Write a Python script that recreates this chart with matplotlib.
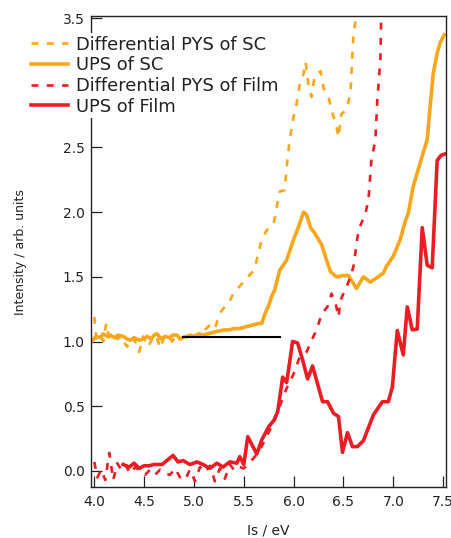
import matplotlib
matplotlib.use("Agg")
import matplotlib.pyplot as plt

# ---------------- data ----------------
pys_sc_x = [4.00, 4.02, 4.06, 4.09, 4.12, 4.15, 4.19, 4.23, 4.27, 4.31, 4.33, 4.37, 4.41, 4.45,
            4.49, 4.54, 4.58, 4.62, 4.66, 4.70, 4.74, 4.78, 4.82, 4.86, 4.90, 4.95, 5.00, 5.04,
            5.08, 5.11, 5.16, 5.21, 5.26, 5.30, 5.35, 5.40, 5.45, 5.53, 5.60, 5.63, 5.68, 5.73,
            5.80, 5.83, 5.86, 5.91, 5.93, 5.96, 6.00, 6.03, 6.06, 6.10, 6.12, 6.15, 6.18, 6.21,
            6.27, 6.30, 6.35, 6.38, 6.43, 6.45, 6.48, 6.53, 6.57, 6.58, 6.60, 6.63, 6.66]
pys_sc_y = [1.19, 1.02, 1.05, 1.00, 1.14, 1.03, 1.06, 1.02, 1.04, 0.98, 0.96, 1.03, 1.00, 0.92,
            1.04, 0.96, 1.02, 1.05, 0.95, 1.03, 1.05, 1.00, 1.05, 1.02, 1.04, 1.03, 1.05, 1.04,
            1.06, 1.09, 1.13, 1.10, 1.22, 1.26, 1.30, 1.38, 1.42, 1.49, 1.55, 1.63, 1.79, 1.86,
            1.91, 2.04, 2.16, 2.17, 2.35, 2.56, 2.74, 2.84, 2.98, 3.07, 3.16, 2.98, 2.89, 3.05,
            3.09, 2.96, 2.89, 2.79, 2.66, 2.58, 2.76, 2.79, 2.92, 3.07, 3.38, 3.52, 3.70]

ups_sc_x = [3.97, 4.02, 4.06, 4.09, 4.13, 4.16, 4.20, 4.24, 4.29, 4.33, 4.36, 4.40, 4.45, 4.49,
            4.53, 4.57, 4.60, 4.63, 4.67, 4.71, 4.75, 4.79, 4.83, 4.86, 4.89, 4.93, 4.96, 5.00,
            5.05, 5.09, 5.14, 5.19, 5.24, 5.30, 5.35, 5.40, 5.45, 5.50, 5.55, 5.60, 5.65, 5.68,
            5.71, 5.75, 5.78, 5.81, 5.86, 5.93, 6.00, 6.05, 6.10, 6.13, 6.17, 6.21, 6.28, 6.33,
            6.37, 6.43, 6.50, 6.55, 6.60, 6.63, 6.70, 6.77, 6.83, 6.90, 6.93, 7.00, 7.07, 7.12,
            7.15, 7.20, 7.25, 7.30, 7.34, 7.37, 7.40, 7.44, 7.47, 7.51]
ups_sc_y = [1.00, 1.04, 1.03, 1.06, 1.04, 1.05, 1.03, 1.05, 1.04, 1.02, 1.01, 1.03, 1.01, 1.02,
            1.04, 1.02, 1.05, 1.06, 1.02, 1.04, 1.03, 1.05, 1.05, 1.02, 1.03, 1.04, 1.05, 1.04,
            1.06, 1.05, 1.06, 1.07, 1.08, 1.09, 1.09, 1.10, 1.10, 1.11, 1.12, 1.13, 1.14, 1.14,
            1.21, 1.28, 1.35, 1.40, 1.55, 1.63, 1.79, 1.89, 2.00, 1.98, 1.88, 1.84, 1.75, 1.63,
            1.54, 1.50, 1.51, 1.51, 1.45, 1.41, 1.50, 1.46, 1.49, 1.53, 1.58, 1.66, 1.79, 1.93,
            1.99, 2.20, 2.33, 2.46, 2.56, 2.82, 3.07, 3.23, 3.31, 3.37]

pys_film_x = [4.00, 4.03, 4.07, 4.11, 4.15, 4.19, 4.23, 4.27, 4.31, 4.36, 4.41, 4.46, 4.51, 4.56,
              4.61, 4.66, 4.71, 4.76, 4.81, 4.86, 4.91, 4.96, 5.01, 5.06, 5.11, 5.16, 5.21, 5.26,
              5.31, 5.36, 5.41, 5.46, 5.50, 5.55, 5.60, 5.65, 5.70, 5.75, 5.80, 5.86, 5.93, 6.00,
              6.06, 6.13, 6.18, 6.23, 6.28, 6.34, 6.38, 6.42, 6.45, 6.47, 6.53, 6.57, 6.60, 6.65,
              6.72, 6.75, 6.78, 6.82, 6.84, 6.87, 6.88, 6.90]
pys_film_y = [0.07, -0.05, 0.01, -0.07, 0.14, -0.07, 0.06, 0.01, 0.05, -0.02, 0.03, 0.00, -0.03, 0.01,
              -0.03, 0.01, -0.02, -0.03, 0.02, -0.05, -0.07, 0.01, -0.08, 0.03, -0.01, 0.04, -0.08, 0.02,
              -0.06, 0.05, 0.00, 0.03, 0.02, 0.06, 0.10, 0.15, 0.22, 0.30, 0.37, 0.50, 0.64, 0.75,
              0.88, 0.92, 1.01, 1.09, 1.21, 1.27, 1.37, 1.30, 1.19, 1.32, 1.42, 1.50, 1.58, 1.86,
              1.99, 2.09, 2.40, 2.56, 2.87, 3.18, 3.55, 3.80]

ups_film_x = [4.29, 4.35, 4.40, 4.45, 4.50, 4.55, 4.60, 4.68, 4.79, 4.84, 4.89, 4.96, 5.03, 5.09,
              5.16, 5.23, 5.29, 5.36, 5.43, 5.46, 5.50, 5.54, 5.63, 5.68, 5.75, 5.80, 5.84, 5.89,
              5.93, 5.99, 6.04, 6.09, 6.14, 6.19, 6.29, 6.34, 6.40, 6.45, 6.49, 6.54, 6.59, 6.64,
              6.70, 6.80, 6.89, 6.95, 6.99, 7.04, 7.10, 7.14, 7.19, 7.24, 7.29, 7.34, 7.39, 7.44,
              7.48, 7.52]
ups_film_y = [0.05, 0.03, 0.06, 0.02, 0.04, 0.04, 0.05, 0.05, 0.12, 0.07, 0.08, 0.05, 0.07, 0.05,
              0.02, 0.06, 0.03, 0.07, 0.06, 0.11, 0.05, 0.265, 0.131, 0.24, 0.342, 0.389, 0.458, 0.725,
              0.684, 1.001, 0.989, 0.858, 0.711, 0.811, 0.535, 0.535, 0.446, 0.42, 0.144, 0.296, 0.188, 0.188,
              0.234, 0.433, 0.535, 0.535, 0.647, 1.085, 0.897, 1.268, 1.091, 1.096, 1.88, 1.59, 1.57, 2.40,
              2.44, 2.45]

baseline_x = [4.887, 5.864]
baseline_y = [1.038, 1.038]

x_ticks = [4.0, 4.5, 5.0, 5.5, 6.0, 6.5, 7.0, 7.5]
y_ticks = [0.0, 0.5, 1.0, 1.5, 2.0, 2.5, 3.0, 3.5]

labels = ["Differential PYS of SC", "UPS of SC", "Differential PYS of Film", "UPS of Film"]

# ---------------- style ----------------
ORANGE = "#FAA61A"
RED = "#ED1C24"
plt.rcParams['font.family'] = ['DejaVu Sans']
plt.rcParams['lines.scale_dashes'] = False

fig = plt.figure(figsize=(4.51, 5.38), dpi=100)
ax = fig.add_axes([0.2018, 0.0948, 0.7872, 0.8752])

dash = (0, (5, 6))
l1, = ax.plot(pys_sc_x, pys_sc_y, color=ORANGE, lw=1.9, linestyle=dash)
l2, = ax.plot(ups_sc_x, ups_sc_y, color=ORANGE, lw=2.6)
l3, = ax.plot(pys_film_x, pys_film_y, color=RED, lw=1.9, linestyle=dash)
l4, = ax.plot(ups_film_x, ups_film_y, color=RED, lw=2.6)
ax.plot(baseline_x, baseline_y, color="black", lw=1.5)

ax.set_xlim(3.967, 7.529)
ax.set_ylim(-0.124, 3.515)
ax.set_xticks(x_ticks)
ax.set_yticks(y_ticks)
ax.set_xticklabels([f"{v:.1f}" for v in x_ticks])
ax.set_yticklabels([f"{v:.1f}" for v in y_ticks])
ax.tick_params(axis='both', direction='in', length=8, width=0.9, labelsize=10, colors='#222222')
ax.tick_params(axis='y', pad=4.5)
ax.tick_params(axis='x', pad=6)
for s in ax.spines.values():
    s.set_linewidth(1.0)
    s.set_color('#222222')

ax.set_xlabel("Is / eV", fontsize=10, color='#222222', labelpad=10)
ax.set_ylabel("Intensity / arb. units", fontsize=9, color='#222222', labelpad=26)

leg = fig.legend([l1, l2, l3, l4], labels, loc='upper left',
                 bbox_to_anchor=(0.062, 0.9387), bbox_transform=fig.transFigure,
                 borderaxespad=0, borderpad=0.15, frameon=True, framealpha=1,
                 facecolor='white', edgecolor='none', fontsize=12.9,
                 handlelength=2.1, handletextpad=0.45, labelspacing=0.15)
leg.get_frame().set_boxstyle('square', pad=0)
leg.set_zorder(10)
for t in leg.get_texts():
    t.set_color('#222222')

fig.savefig("out.png", dpi=100)
